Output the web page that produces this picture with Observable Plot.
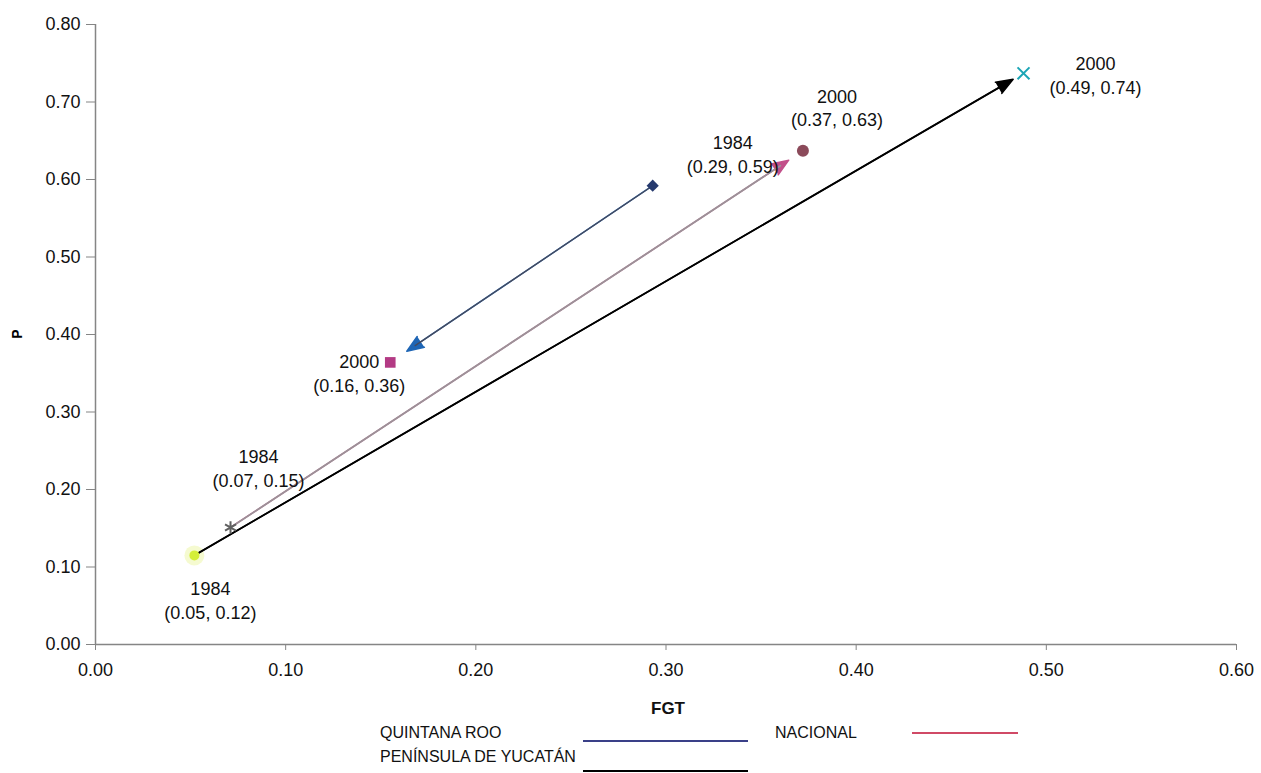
<!DOCTYPE html>
<html><head><meta charset="utf-8">
<script src="https://cdn.jsdelivr.net/npm/d3@7"></script>
<script src="https://cdn.jsdelivr.net/npm/@observablehq/plot@0.6"></script>
<style>
body{margin:0;background:#fff;font-family:"Liberation Sans",Arial,sans-serif;}
#wrap{position:relative;width:1261px;height:773px;overflow:hidden;background:#fff}
#legend{position:absolute;left:0;top:690px;width:1261px;height:83px;color:#111}
.t{position:absolute;white-space:nowrap;line-height:1;transform:translateY(-50%)}
.l{position:absolute;height:0}
</style></head><body><div id="wrap"><div id="chart"></div><div id="legend"></div><div id="ylab" class="t" style="left:12px;top:334px;font-weight:bold;font-size:14px;transform:translate(0,-50%) rotate(-90deg)">P</div></div>
<script>
// ---- data ----
const series = ["QUINTANA ROO", "NACIONAL", "PENÍNSULA DE YUCATÁN"];
const years = ["1984", "2000"];
const fgt1984 = [0.293, 0.071, 0.052];
const p1984 = [0.592, 0.151, 0.115];
const fgt2000 = [0.155, 0.372, 0.488];
const p2000 = [0.364, 0.637, 0.737];
const label1984 = ["(0.29, 0.59)", "(0.07, 0.15)", "(0.05, 0.12)"];
const label2000 = ["(0.16, 0.36)", "(0.37, 0.63)", "(0.49, 0.74)"];
const xTicks = [0, 0.1, 0.2, 0.3, 0.4, 0.5, 0.6];
const yTicks = [0, 0.1, 0.2, 0.3, 0.4, 0.5, 0.6, 0.7, 0.8];
const xTitle = "FGT";
const yTitle = "P";

// ---- styles ----
const shaftColor = ["#474a5c", "#9c9298", "#000000"];
const headColor = ["#1f66b5", "#c2508a", "#000000"];
const shaftWidth = [1.3, 1.8, 1.8];
const endInset = [20, 17, 12];
const legendColor = ["#3a4088", "#d04a66", "#000000"];
const sym1984 = [{symbol: "diamond2", r: 5.5, fill: "#263a6e"}, {symbol: "asterisk", r: 6, stroke: "#606060", strokeWidth: 2}, {symbol: "circle", r: 5, fill: "#d4ee3a"}];
const sym2000 = [{symbol: "square", r: 6, fill: "#b33a84"}, {symbol: "circle", r: 6, fill: "#8b4a5a"}, {symbol: "times", r: 5.5, stroke: "#1ba5b5", strokeWidth: 2}];
const off1984 = [[80, -32], [28, -60], [16, 44]];
const off2000 = [[-31, 10], [34, -44], [72, 1]];

const arrows = series.map((s, i) => ({s, i, x1: fgt1984[i], y1: p1984[i], x2: fgt2000[i], y2: p2000[i]}));
const marks = [];
// soft halo behind the yellow 1984 point of Península
marks.push(Plot.dot([2], {x: j => fgt1984[j], y: j => p1984[j], r: 10, fill: "#eef7b0", fillOpacity: 0.6}));
arrows.forEach((a, i) => {
  marks.push(Plot.arrow([a], {x1: "x1", y1: "y1", x2: "x2", y2: "y2", stroke: headColor[i], fill: headColor[i], strokeWidth: 1.5, headLength: 18, headAngle: 42, insetEnd: endInset[i], strokeLinejoin: "miter"}));
  marks.push(Plot.arrow([a], {x1: "x1", y1: "y1", x2: "x2", y2: "y2", stroke: shaftColor[i], strokeWidth: shaftWidth[i], headLength: 0, insetEnd: endInset[i] + 10}));
});
marks.push(Plot.ruleX([0], {stroke: "#858585", strokeWidth: 1.5}));
marks.push(Plot.ruleY([0], {stroke: "#858585", strokeWidth: 1.5}));
marks.push(Plot.axisX({ticks: xTicks, tickFormat: d3.format(".2f"), tickSize: 6, tickPadding: 13, stroke: "#858585", fill: "#111", fontSize: 18, label: null}));
marks.push(Plot.axisY({ticks: yTicks, tickFormat: d3.format(".2f"), tickSize: 9, tickPadding: 6, stroke: "#858585", fill: "#111", fontSize: 18, label: null}));
series.forEach((s, i) => {
  marks.push(Plot.dot([i], {x: j => fgt1984[j], y: j => p1984[j], ...sym1984[i]}));
  marks.push(Plot.dot([i], {x: j => fgt2000[j], y: j => p2000[j], ...sym2000[i]}));
  marks.push(Plot.text([i], {x: j => fgt1984[j], y: j => p1984[j], text: j => years[0] + "\n" + label1984[j], dx: off1984[i][0], dy: off1984[i][1], fontSize: 18, lineHeight: 1.33, fill: "#111"}));
  marks.push(Plot.text([i], {x: j => fgt2000[j], y: j => p2000[j], text: j => years[1] + "\n" + label2000[j], dx: off2000[i][0], dy: off2000[i][1], fontSize: 18, lineHeight: 1.33, fill: "#111"}));
});

const chart = Plot.plot({
  width: 1261, height: 690,
  marginLeft: 95, marginRight: 25, marginTop: 24, marginBottom: 46,
  x: {domain: [0, 0.6], label: null},
  y: {domain: [0, 0.8], label: null},
  style: {fontFamily: '"Liberation Sans", Arial, sans-serif', fontSize: "18px", background: "#fff", overflow: "visible"},
  marks
});
document.getElementById("chart").appendChild(chart);
document.getElementById("ylab").textContent = yTitle;

// legend
const lg = document.getElementById("legend");
function txt(str, left, top, extra) {
  const d = document.createElement("div"); d.className = "t"; d.textContent = str;
  d.style.left = left + "px"; d.style.top = top + "px"; d.style.fontSize = "16px";
  Object.assign(d.style, extra || {}); lg.appendChild(d); return d;
}
function line(left, width, top, color) {
  const d = document.createElement("div"); d.className = "l";
  d.style.left = left + "px"; d.style.width = width + "px"; d.style.top = top + "px";
  d.style.borderTop = "2px solid " + color; lg.appendChild(d);
}
txt(xTitle, 668, 18, {fontWeight: "bold", fontSize: "17px", transform: "translate(-50%,-50%)"});
txt(series[0], 380, 43); line(583, 165, 50, legendColor[0]);
txt(series[1], 775, 43); line(912, 106, 42, legendColor[1]);
txt(series[2], 380, 67); line(583, 165, 80, legendColor[2]);
</script></body></html>
